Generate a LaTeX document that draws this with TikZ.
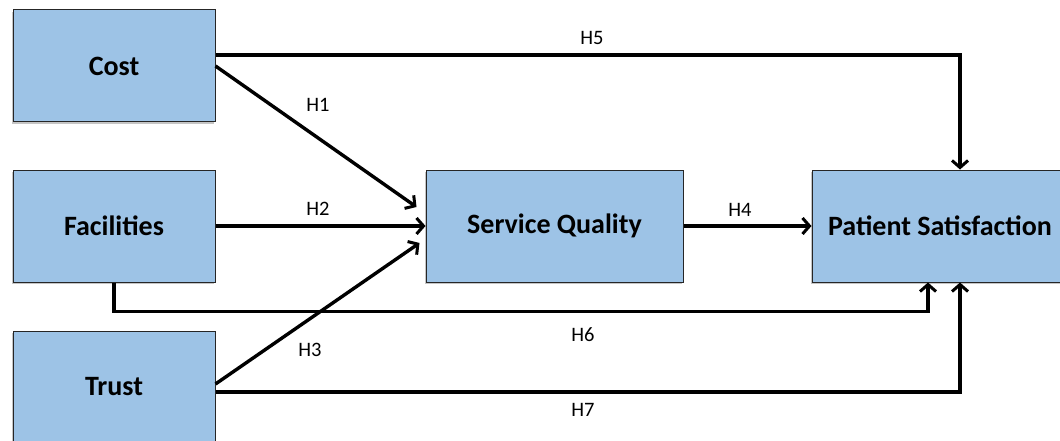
\documentclass[tikz,border=0pt]{standalone}
\usepackage{fontspec}
\setmainfont{Carlito}
\usepackage{tikz}
\usetikzlibrary{calc,arrows.meta,shadows}

\definecolor{boxblue}{HTML}{9DC3E6}

\begin{document}
\begin{tikzpicture}[x=1pt, y=-1pt,
        construct/.style={draw=black!85, line width=1pt, fill=boxblue,
            general shadow={fill=black!45, shadow xshift=-1.2pt, shadow yshift=-2.2pt, opacity=0.5},
            minimum width=202pt, minimum height=112pt, inner sep=0pt,
            font=\bfseries\fontsize{28}{32}\selectfont},
        hyp/.style={draw, line width=3.4pt, -{Straight Barb[length=7pt, width=16pt, line width=3pt]}},
        lbl/.style={font=\fontsize{20.5}{22}\selectfont, inner sep=0pt}]
    \useasboundingbox (0,0) rectangle (1060,441);

    % constructs
    \node[construct] (cost) at (114,66) {Cost};
    \node[construct] (fac) at (114,226) {Facilities};
    \node[construct] (trust) at (114,387) {Trust};
    \node[construct, minimum width=257pt] (sq) at (554.5,226) {Service Quality};
    \node[construct, minimum width=256pt] (ps) at (940,226) {Patient Satisfaction};

    % hypotheses
    \draw[hyp] (cost.east) -- ($(sq.west)+(-9,-19)$);
    \draw[hyp] (fac.east) -- (sq.west);
    \draw[hyp] ($(trust.east)+(0,-3)$) -- ($(sq.west)+(-6,17)$);
    \draw[hyp] (sq.east) -- (ps.west);
    \draw[hyp] ($(cost.east)+(0,-11)$) -| ($(ps.north)+(20,0)$);
    \draw[hyp] (fac.south) -- ++(0,29) -| ($(ps.south)+(-12,0)$);
    \draw[hyp] ($(trust.east)+(0,5)$) -| ($(ps.south)+(20,0)$);

    \node[lbl] (h1) at (318,105) {H1};
    \node[lbl] (h2) at (318,209) {H2};
    \node[lbl] (h3) at (310,350) {H3};
    \node[lbl] (h4) at (740,210) {H4};
    \node[lbl] (h5) at (592,38) {H5};
    \node[lbl] (h6) at (583,335) {H6};
    \node[lbl] (h7) at (583,410) {H7};
\end{tikzpicture}
\end{document}
